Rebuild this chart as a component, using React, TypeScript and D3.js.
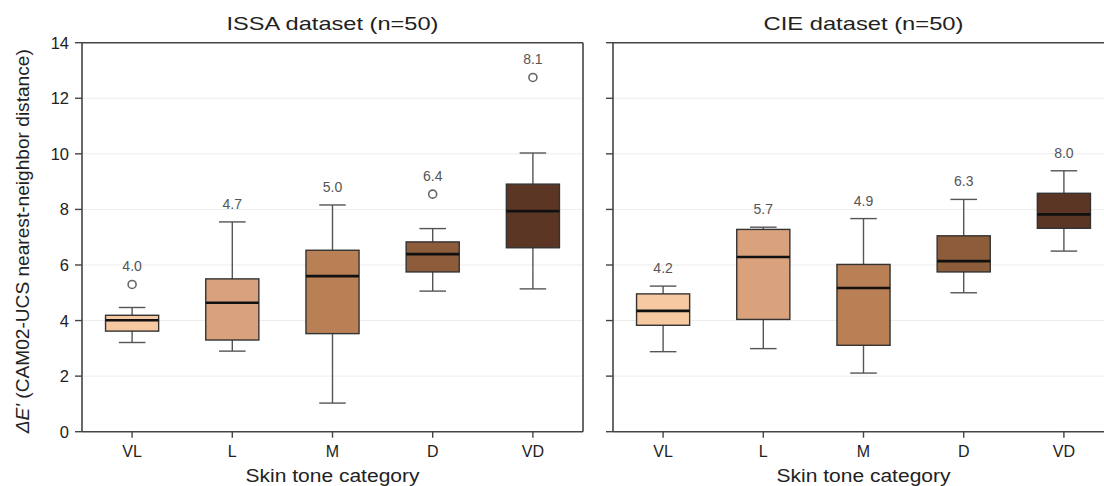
import React from "react";
import * as d3 from "d3";

const categories = ["VL", "L", "M", "D", "VD"];
const boxColors = ["#f7c9a1", "#d9a27c", "#b98056", "#8d5c3b", "#5b3625"];
const yTicks = [0, 2, 4, 6, 8, 10, 12, 14];

// ISSA dataset
const issaLow = [3.21, 2.9, 1.03, 5.06, 5.14];
const issaQ1 = [3.62, 3.3, 3.53, 5.75, 6.62];
const issaMedian = [4.01, 4.64, 5.6, 6.39, 7.94];
const issaQ3 = [4.19, 5.5, 6.53, 6.83, 8.91];
const issaHigh = [4.47, 7.55, 8.16, 7.31, 10.03];
const issaOutliers = [[5.3], [], [], [8.55], [12.75]];
const issaMeans = ["4.0", "4.7", "5.0", "6.4", "8.1"];

// CIE dataset
const cieLow = [2.88, 2.99, 2.11, 5.0, 6.5];
const cieQ1 = [3.83, 4.04, 3.11, 5.75, 7.32];
const cieMedian = [4.35, 6.29, 5.17, 6.14, 7.82];
const cieQ3 = [4.96, 7.28, 6.02, 7.05, 8.58];
const cieHigh = [5.24, 7.36, 7.67, 8.36, 9.39];
const cieOutliers: number[][] = [[], [], [], [], []];
const cieMeans = ["4.2", "5.7", "4.9", "6.3", "8.0"];

const W = 1104;
const H = 486;
const top = 42.7;
const bottom = 431.7;
const FONT = "'Liberation Sans', Arial, Helvetica, sans-serif";

const y = d3.scaleLinear().domain([0, 14]).range([bottom, top]);

type PanelProps = {
  x0: number;
  x1: number;
  title: string;
  titleWidth: number;
  low: number[];
  q1: number[];
  med: number[];
  q3: number[];
  high: number[];
  outliers: number[][];
  means: string[];
  showYLabels: boolean;
};

function Panel(p: PanelProps) {
  const x = d3.scaleBand().domain(categories).range([p.x0, p.x1]).padding(0);
  const bw = x.bandwidth() * 0.53;
  const cw = bw / 2;
  const cx = (c: string) => (x(c) as number) + x.bandwidth() / 2;
  const mid = (p.x0 + p.x1) / 2;
  return (
    <g>
      {yTicks.slice(1, -1).map((t) => (
        <line key={"g" + t} x1={p.x0} x2={p.x1} y1={y(t)} y2={y(t)} stroke="#ededed" strokeWidth={1} />
      ))}
      {categories.map((c, i) => {
        const xc = cx(c);
        const maxV = Math.max(p.high[i], ...p.outliers[i]);
        return (
          <g key={c}>
            <line x1={xc} x2={xc} y1={y(p.q3[i])} y2={y(p.high[i])} stroke="#555" strokeWidth={1.4} />
            <line x1={xc} x2={xc} y1={y(p.q1[i])} y2={y(p.low[i])} stroke="#555" strokeWidth={1.4} />
            <line x1={xc - cw / 2} x2={xc + cw / 2} y1={y(p.high[i])} y2={y(p.high[i])} stroke="#555" strokeWidth={1.4} />
            <line x1={xc - cw / 2} x2={xc + cw / 2} y1={y(p.low[i])} y2={y(p.low[i])} stroke="#555" strokeWidth={1.4} />
            <rect
              x={xc - bw / 2}
              y={y(p.q3[i])}
              width={bw}
              height={y(p.q1[i]) - y(p.q3[i])}
              fill={boxColors[i]}
              stroke="#333"
              strokeWidth={1.4}
            />
            <line x1={xc - bw / 2} x2={xc + bw / 2} y1={y(p.med[i])} y2={y(p.med[i])} stroke="#111" strokeWidth={2.6} />
            {p.outliers[i].map((o, j) => (
              <circle key={j} cx={xc} cy={y(o)} r={4} fill="#fff" stroke="#666" strokeWidth={1.6} />
            ))}
            <text
              x={xc}
              y={y(maxV) - 18}
              textAnchor="middle"
              dominantBaseline="central"
              fontSize={14}
              fill="#555"
              fontFamily={FONT}
            >
              {p.means[i]}
            </text>
          </g>
        );
      })}
      <line x1={p.x0} x2={p.x1} y1={top} y2={top} stroke="#444" strokeWidth={1.6} />
      <line x1={p.x0} x2={p.x1} y1={bottom} y2={bottom} stroke="#444" strokeWidth={1.6} />
      <line x1={p.x0} x2={p.x0} y1={top} y2={bottom} stroke="#444" strokeWidth={1.6} />
      <line x1={p.x1} x2={p.x1} y1={top} y2={bottom} stroke="#444" strokeWidth={1.6} />
      {yTicks.map((t) => (
        <g key={"t" + t}>
          <line x1={p.x0 - 7} x2={p.x0} y1={y(t)} y2={y(t)} stroke="#444" strokeWidth={1.4} />
          {p.showYLabels && (
            <text
              x={p.x0 - 13}
              y={y(t)}
              textAnchor="end"
              dominantBaseline="central"
              fontSize={16.5}
              fill="#222"
              fontFamily={FONT}
            >
              {t}
            </text>
          )}
        </g>
      ))}
      {categories.map((c) => (
        <g key={"x" + c}>
          <line x1={cx(c)} x2={cx(c)} y1={bottom} y2={bottom + 6} stroke="#444" strokeWidth={1.4} />
          <text
            x={cx(c)}
            y={bottom + 20}
            textAnchor="middle"
            dominantBaseline="central"
            fontSize={16}
            fill="#222"
            fontFamily={FONT}
          >
            {c}
          </text>
        </g>
      ))}
      <text
        x={mid}
        y={bottom + 44}
        textAnchor="middle"
        dominantBaseline="central"
        fontSize={17.5}
        fill="#222"
        fontFamily={FONT}
        textLength={174}
        lengthAdjust="spacingAndGlyphs"
      >
        Skin tone category
      </text>
      <text
        x={mid}
        y={23}
        textAnchor="middle"
        dominantBaseline="central"
        fontSize={19}
        fill="#222"
        fontFamily={FONT}
        textLength={p.titleWidth}
        lengthAdjust="spacingAndGlyphs"
      >
        {p.title}
      </text>
    </g>
  );
}

export default function App() {
  return (
    <div style={{ position: "absolute", left: 0, top: 0 }}>
      <svg width={W} height={H} viewBox={`0 0 ${W} ${H}`} style={{ display: "block", background: "#fff" }}>
        <rect x={0} y={0} width={W} height={H} fill="#fff" />
        <Panel
          x0={82}
          x1={583}
          title="ISSA dataset (n=50)"
          titleWidth={212}
          low={issaLow}
          q1={issaQ1}
          med={issaMedian}
          q3={issaQ3}
          high={issaHigh}
          outliers={issaOutliers}
          means={issaMeans}
          showYLabels={true}
        />
        <Panel
          x0={613}
          x1={1114}
          title="CIE dataset (n=50)"
          titleWidth={200}
          low={cieLow}
          q1={cieQ1}
          med={cieMedian}
          q3={cieQ3}
          high={cieHigh}
          outliers={cieOutliers}
          means={cieMeans}
          showYLabels={false}
        />
        <text
          transform={`translate(23, ${(top + bottom) / 2 + 4}) rotate(-90)`}
          textAnchor="middle"
          dominantBaseline="central"
          fontSize={18}
          fill="#222"
          fontFamily={FONT}
          textLength={384}
          lengthAdjust="spacingAndGlyphs"
        >
          <tspan fontStyle="italic">ΔE'</tspan> (CAM02-UCS nearest-neighbor distance)
        </text>
      </svg>
    </div>
  );
}
